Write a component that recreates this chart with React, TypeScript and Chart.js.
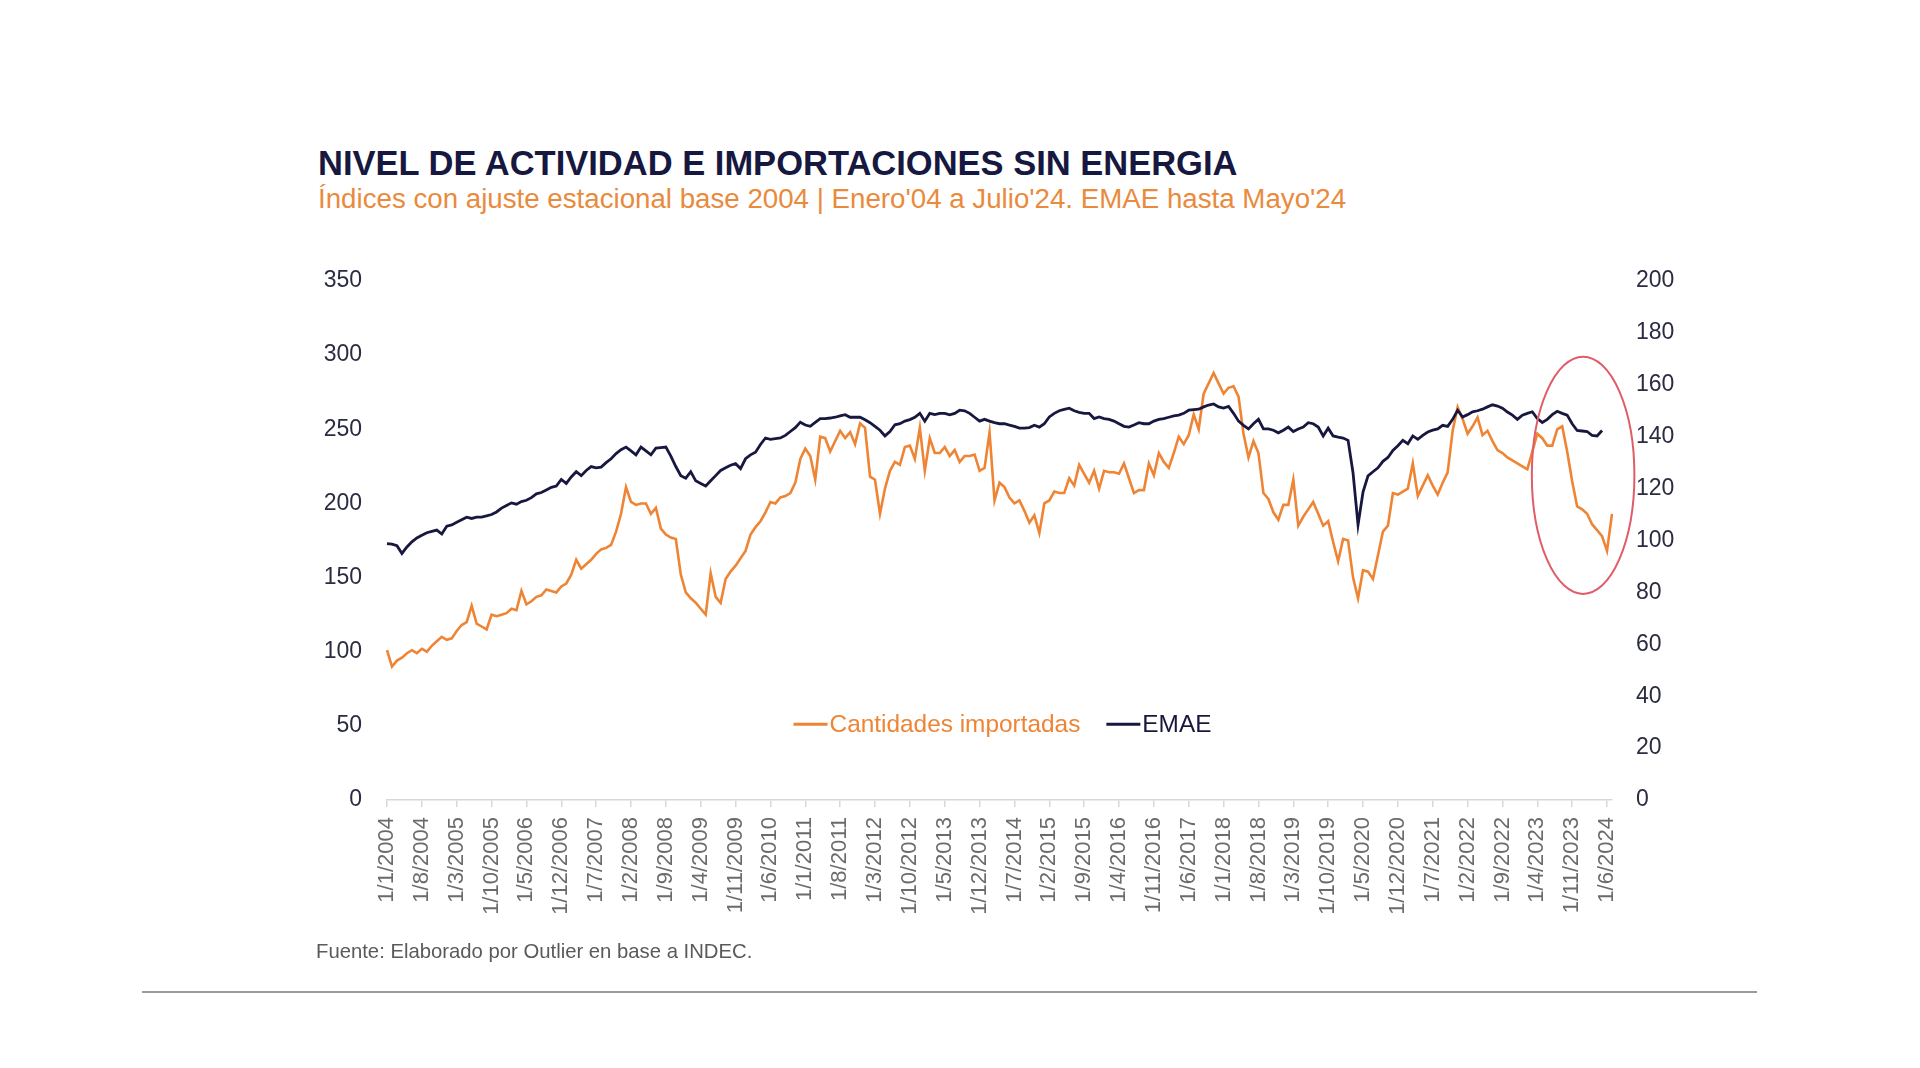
import React, { useEffect, useRef } from "react";
import { Chart, registerables } from "chart.js";

Chart.register(...registerables);

const FONT = "'Liberation Sans', Arial, Helvetica, sans-serif";

// Cantidades importadas (índice base 2004), mensual Ene-2004 a Jul-2024
const importsValues: number[] = [
  101, 90, 94, 96, 99, 101, 99, 102, 100, 104, 107, 110, // 2004
  108, 109, 114, 118, 120, 131, 119, 117, 115, 125, 124, 125, // 2005
  126, 129, 128, 141, 132, 134, 137, 138, 142, 141, 140, 144, // 2006
  146, 152, 162, 156, 159, 162, 166, 169, 170, 172, 181, 193, // 2007
  211, 201, 199, 200, 200, 193, 197, 183, 179, 177, 176, 152, // 2008
  140, 136, 133, 129, 125, 153, 137, 133, 149, 154, 158, 163, // 2009
  168, 179, 184, 188, 194, 201, 200, 204, 205, 207, 214, 230, // 2010
  237, 232, 216, 245, 244, 235, 242, 249, 244, 248, 240, 254, // 2011
  251, 218, 216, 193, 210, 222, 228, 226, 238, 239, 230, 251, // 2012
  222, 244, 234, 234, 238, 232, 236, 228, 232, 232, 233, 222, // 2013
  224, 248, 202, 214, 211, 204, 200, 202, 195, 187, 192, 180, // 2014
  200, 202, 208, 207, 207, 217, 212, 226, 220, 214, 222, 210, // 2015
  222, 221, 221, 220, 227, 217, 207, 209, 209, 227, 219, 234, // 2016
  228, 224, 234, 245, 240, 246, 260, 250, 274, 281, 288, 281, // 2017
  274, 278, 279, 272, 247, 231, 242, 234, 207, 203, 194, 189, // 2018
  199, 199, 216, 185, 191, 196, 201, 193, 185, 188, 174, 161, // 2019
  176, 175, 150, 136, 155, 154, 149, 165, 181, 185, 207, 206, // 2020
  208, 210, 227, 205, 212, 219, 212, 206, 214, 221, 249, 265, // 2021
  257, 247, 252, 258, 246, 249, 242, 236, 234, 231, 229, 227, // 2022
  225, 223, 235, 247, 244, 239, 239, 250, 252, 235, 215, 198, // 2023
  196, 193, 186, 182, 178, 168, 193, // 2024 (Ene-Jul)
];

// EMAE desestacionalizado (base 2004), mensual Ene-2004 a May-2024
const emaeValues: number[] = [
  98.8, 98.6, 98, 95, 97.5, 99.5, 101, 102, 103, 103.5, 104, 102.5, // 2004
  105.5, 106, 107, 108, 109, 108.5, 109, 109, 109.5, 110, 111, 112.5, // 2005
  113.5, 114.5, 114, 115, 115.5, 116.5, 118, 118.5, 119.5, 120.5, 121, 123.5, // 2006
  122, 124.5, 126.5, 125, 127, 128.5, 128, 128.3, 130, 131.5, 133.5, 135, // 2007
  136, 134.5, 133, 136, 134.5, 133, 135.6, 135.8, 136, 132.5, 128.5, 125, // 2008
  124, 126.5, 123, 122, 121, 123, 125, 127, 128, 129, 129.6, 127.7, // 2009
  131.5, 133, 134, 137, 139.5, 139, 139.3, 139.5, 140.5, 142, 143.5, 145.6, // 2010
  144.5, 144, 145.5, 147, 147, 147.2, 147.5, 148, 148.5, 147.5, 147.5, 147.5, // 2011
  146.5, 145.4, 144, 142.5, 140.3, 142, 144.6, 145, 146, 146.6, 147.5, 149, // 2012
  146, 149, 148.5, 149, 149, 148.4, 149, 150.2, 150, 149, 147.5, 146, // 2013
  146.7, 146, 145.4, 145, 145, 144.5, 144, 143.3, 143.3, 143.5, 144.4, 143.7, // 2014
  145, 147.6, 149, 150, 150.5, 151, 150, 149.4, 149, 149, 147, 147.6, // 2015
  147, 146.7, 146, 145, 144, 143.7, 144.5, 145.4, 145, 145, 146, 146.7, // 2016
  147, 147.5, 148, 148.3, 149, 150.2, 150.4, 150.6, 151.5, 152.2, 152.6, 151.5, // 2017
  151, 151.7, 149, 146, 144.4, 143, 145, 146.7, 143, 143, 142.5, 141.5, // 2018
  142.5, 143.7, 142, 143, 143.7, 145.4, 145, 143.7, 140.3, 143.3, 140.3, 139.8, // 2019
  139.5, 138.6, 126, 106, 118.7, 124.9, 126.5, 128, 130.5, 132, 134.7, 136.5, // 2020
  138.6, 137.3, 140.3, 139, 140.5, 141.8, 142.5, 143, 144.4, 144, 146.7, 150.2, // 2021
  147.6, 148.5, 149.6, 150, 150.6, 151.5, 152.3, 151.8, 151, 149.5, 148.3, 146.7, // 2022
  148.3, 149, 149.6, 147, 145.5, 146.7, 148.5, 149.8, 149, 148.3, 145, 142.4, // 2023
  142.2, 142, 140.5, 140.3, 142.4, // 2024 (Ene-May)
];

const START_YEAR = 2004;
const monthLabels: string[] = importsValues.map((_, k) => {
  const year = START_YEAR + Math.floor(k / 12);
  const month = (k % 12) + 1;
  return `1/${month}/${year}`;
});
const LABEL_EVERY = 7;

const seriesNames = ["Cantidades importadas", "EMAE"];
const seriesColors = ["#EE8434", "#17173F"];

const leftAxis = { min: 0, max: 350, step: 50 };
const rightAxis = { min: 0, max: 200, step: 20 };

const TITLE = "NIVEL DE ACTIVIDAD E IMPORTACIONES SIN ENERGIA";
const SUBTITLE =
  "Índices con ajuste estacional base 2004 | Enero'04 a Julio'24. EMAE hasta Mayo'24";
const SOURCE = "Fuente: Elaborado por Outlier en base a INDEC.";

// annotation (red ellipse) in data coordinates
const highlight = { centerMonth: 240.2, centerValue: 219, radiusMonths: 10.3, radiusValue: 80 };
const LEGEND_VALUE = 51;

const legendPlugin = {
  id: "insideLegend",
  afterDatasetsDraw(chart: any) {
    const { ctx, chartArea, scales } = chart;
    const items = seriesNames.map((t, i) => ({ text: t, color: seriesColors[i] }));
    ctx.save();
    ctx.font = `24.4px ${FONT}`;
    const lineLen = 34;
    const textGap = 2;
    const itemGap = 26;
    const widths = items.map((it) => lineLen + textGap + ctx.measureText(it.text).width);
    const total = widths.reduce((a, b) => a + b, 0) + itemGap * (items.length - 1);
    let x = (chartArea.left + chartArea.right) / 2 - total / 2 + 3;
    const y = scales.y.getPixelForValue(LEGEND_VALUE);
    items.forEach((it, i) => {
      ctx.strokeStyle = it.color;
      ctx.lineWidth = 3;
      ctx.beginPath();
      ctx.moveTo(x, y);
      ctx.lineTo(x + lineLen, y);
      ctx.stroke();
      ctx.fillStyle = it.color;
      ctx.textBaseline = "middle";
      ctx.textAlign = "left";
      ctx.fillText(it.text, x + lineLen + textGap, y + 1);
      x += widths[i] + itemGap;
    });
    ctx.restore();
  },
};

const ellipsePlugin = {
  id: "highlightEllipse",
  afterDatasetsDraw(chart: any) {
    const { ctx, scales } = chart;
    const cx = scales.x.getPixelForValue(highlight.centerMonth);
    const cy = scales.y.getPixelForValue(highlight.centerValue);
    const rx = Math.abs(scales.x.getPixelForValue(highlight.centerMonth + highlight.radiusMonths) - cx);
    const ry = Math.abs(scales.y.getPixelForValue(highlight.centerValue + highlight.radiusValue) - cy);
    ctx.save();
    ctx.strokeStyle = "#E05C68";
    ctx.lineWidth = 2;
    ctx.beginPath();
    ctx.ellipse(cx, cy, rx, ry, 0, 0, Math.PI * 2);
    ctx.stroke();
    ctx.restore();
  },
};

const hiddenTickGrid = (len: number) => ({
  display: true,
  drawOnChartArea: false,
  drawTicks: true,
  tickLength: len,
  color: "rgba(0,0,0,0)",
});

function ChartCanvas() {
  const ref = useRef<HTMLCanvasElement | null>(null);
  useEffect(() => {
    if (!ref.current) return;
    Chart.defaults.font.family = FONT;
    const chart = new Chart(ref.current, {
      type: "line",
      data: {
        labels: monthLabels,
        datasets: [
          {
            label: seriesNames[0],
            data: importsValues,
            borderColor: seriesColors[0],
            backgroundColor: seriesColors[0],
            borderWidth: 2.6,
            pointRadius: 0,
            tension: 0,
            yAxisID: "y",
            order: 2,
          },
          {
            label: seriesNames[1],
            data: emaeValues,
            borderColor: seriesColors[1],
            backgroundColor: seriesColors[1],
            borderWidth: 2.8,
            pointRadius: 0,
            tension: 0,
            yAxisID: "y1",
            order: 1,
          },
        ],
      },
      options: {
        responsive: false,
        animation: false,
        layout: { padding: { top: 29, left: 0, right: 0, bottom: 0 } },
        plugins: {
          legend: { display: false },
          tooltip: { enabled: false },
          title: { display: false },
        },
        scales: {
          x: {
            type: "category",
            grid: {
              display: true,
              drawOnChartArea: false,
              drawTicks: true,
              tickLength: 7,
              color: "#d8d8d8",
              lineWidth: 1.5,
            },
            border: { display: true, color: "#d8d8d8", width: 1.5 },
            ticks: {
              autoSkip: false,
              minRotation: 90,
              maxRotation: 90,
              padding: 10,
              color: "#6b6b6b",
              font: { size: 22 },
              callback: (_v: any, i: number) => (i % LABEL_EVERY === 0 ? monthLabels[i] : null),
            },
            afterFit: (s: any) => {
              s.height = 162;
            },
          },
          y: {
            position: "left",
            min: leftAxis.min,
            max: leftAxis.max,
            grid: hiddenTickGrid(25),
            border: { display: false },
            ticks: {
              stepSize: leftAxis.step,
              padding: 0,
              color: "#2b2b42",
              font: { size: 23 },
            },
            afterFit: (s: any) => {
              s.width = 107;
            },
          },
          y1: {
            position: "right",
            min: rightAxis.min,
            max: rightAxis.max,
            grid: hiddenTickGrid(24),
            border: { display: false },
            ticks: {
              stepSize: rightAxis.step,
              padding: 0,
              color: "#2b2b42",
              font: { size: 23 },
            },
            afterFit: (s: any) => {
              s.width = 128;
            },
          },
        },
      },
      plugins: [legendPlugin, ellipsePlugin],
    } as any);
    return () => chart.destroy();
  }, []);
  return <canvas ref={ref} width={1460} height={710} style={{ position: "absolute", left: 280, top: 252 }} />;
}

export default function App() {
  return (
    <div
      style={{
        position: "absolute",
        left: 0,
        top: 0,
        width: 1920,
        height: 1068,
        background: "#ffffff",
        overflow: "hidden",
        fontFamily: FONT,
      }}
    >
      <div
        style={{
          position: "absolute",
          left: 318,
          top: 146,
          fontSize: 34.5,
          lineHeight: "34px",
          fontWeight: 700,
          color: "#16183F",
          whiteSpace: "nowrap",
        }}
      >
        {TITLE}
      </div>
      <div
        style={{
          position: "absolute",
          left: 318,
          top: 185,
          fontSize: 27.7,
          lineHeight: "28px",
          color: "#E98A3D",
          whiteSpace: "nowrap",
        }}
      >
        {SUBTITLE}
      </div>
      <ChartCanvas />
      <div
        style={{
          position: "absolute",
          left: 316,
          top: 941,
          fontSize: 20.3,
          lineHeight: "20px",
          color: "#5a5a5a",
          whiteSpace: "nowrap",
        }}
      >
        {SOURCE}
      </div>
      <div
        style={{
          position: "absolute",
          left: 142,
          top: 991,
          width: 1615,
          height: 2,
          background: "#9a9a9a",
        }}
      />
    </div>
  );
}
